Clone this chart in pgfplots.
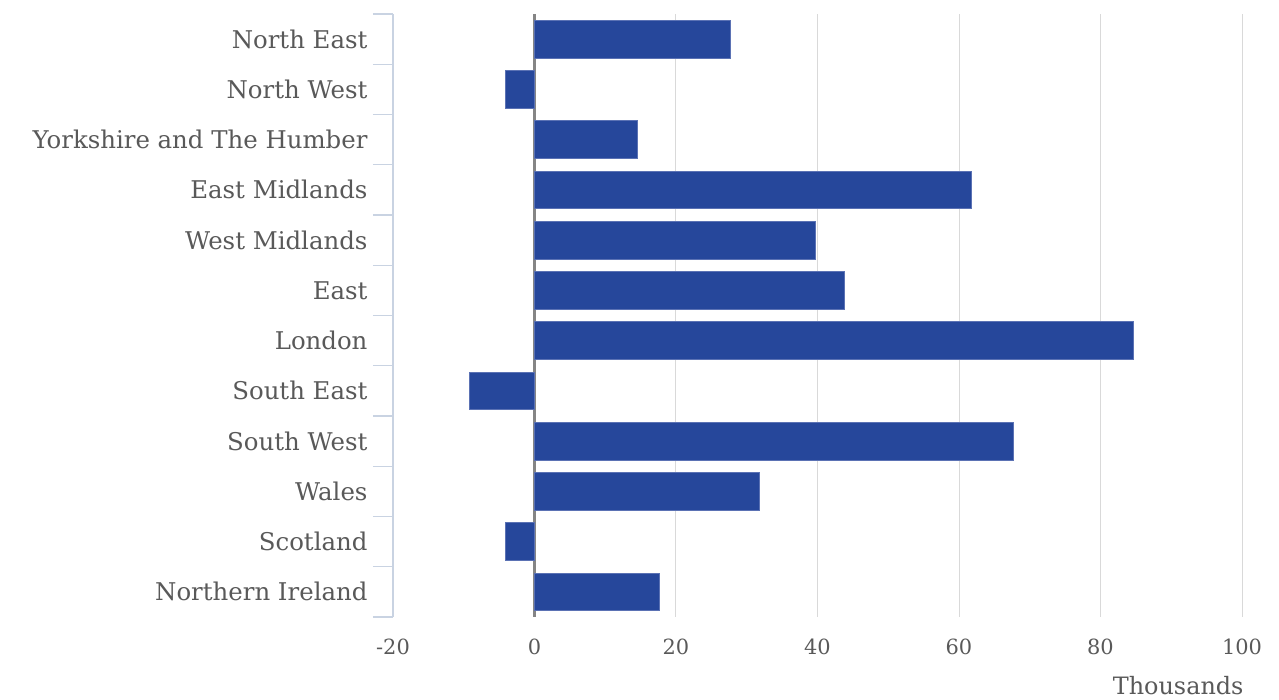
\documentclass[border=0pt]{standalone}
\usepackage{pgfplots}
\pgfplotsset{compat=1.18}
\usepackage{fontspec}
\setmainfont{DejaVu Serif}

\definecolor{barblue}{HTML}{26479B}
\definecolor{baredge}{HTML}{5B72B4}
\definecolor{txtgray}{HTML}{595959}
\definecolor{gridgray}{HTML}{D9D9D9}
\definecolor{axisblue}{HTML}{C9D3E2}
\definecolor{zerogray}{HTML}{858585}

\begin{document}
\begin{tikzpicture}
  \useasboundingbox (-393bp,-83bp) rectangle (886bp,617bp);
  \begin{axis}[
      at={(0,0)}, anchor=south west,
      width=849bp, height=603bp,
      scale only axis,
      xbar,
      bar width=0.75,
      xmin=-20, xmax=100,
      ymin=-0.5, ymax=11.5,
      y dir=reverse,
      axis lines*=left,
      x axis line style={draw=none},
      y axis line style={color=axisblue, line width=1.2bp},
      xtick={-20,0,20,40,60,80,100},
      ytick={0,...,11},
      yticklabels={North East, North West, Yorkshire and The Humber,
        East Midlands, West Midlands, East, London, South East,
        South West, Wales, Scotland, Northern Ireland},
      major tick length=0pt,
      xmajorgrids,
      grid style={color=gridgray, line width=1bp},
      extra x ticks={0},
      extra x tick labels={},
      extra x tick style={grid style={color=zerogray, line width=2.5bp}},
      extra y ticks={-0.5,0.5,...,11.5},
      extra y tick labels={},
      extra y tick style={major tick length=20bp, tick align=outside,
        tick style={color=axisblue, line width=1.2bp}},
      /pgf/number format/assume math mode=true,
      tick label style={color=txtgray},
      xticklabel style={font=\fontsize{21}{25}\selectfont, yshift=-18bp},
      yticklabel style={font=\fontsize{24.5}{29}\selectfont, xshift=-22bp},
      xlabel={Thousands},
      xlabel style={font=\fontsize{24}{28}\selectfont, text=txtgray,
        at={(rel axis cs:1.002,0)}, anchor=north east, inner sep=0pt,
        yshift=-59bp},
    ]
    \addplot[fill=barblue, draw=baredge, line width=0.6bp] coordinates {
      (27.7,0) (-4.1,1) (14.5,2) (61.7,3) (39.7,4) (43.8,5)
      (84.7,6) (-9.2,7) (67.7,8) (31.8,9) (-4.1,10) (17.6,11)
    };
  \end{axis}
\end{tikzpicture}
\end{document}
